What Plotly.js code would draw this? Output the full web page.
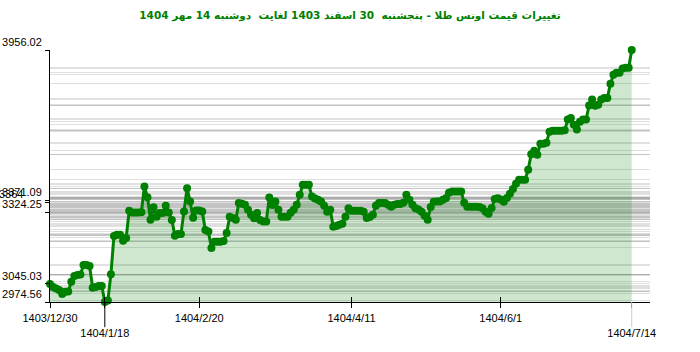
<!DOCTYPE html>
<html>
<head>
<meta charset="utf-8">
<script src="https://cdn.plot.ly/plotly-3.0.1.min.js"></script>
<style>html,body{margin:0;padding:0;background:#fff;}#chart{width:700px;height:352px;}</style>
</head>
<body>
<div id="chart"></div>
<script>
// Gold ounce price, one value per recorded day (index along x)
const values = [
  3045.03, 3033, 3027, 3021, 3006, 3014, 3015, 3053, 3076, 3080,
  3082, 3119, 3119, 3115, 3030, 3033, 3037, 3037, 2974.56, 2980,
  3083, 3232, 3236, 3236, 3213, 3224, 3330, 3323, 3323, 3323,
  3324.25, 3424.5, 3383, 3295, 3344, 3307, 3321, 3321, 3349, 3323,
  3294, 3233, 3239, 3239, 3327, 3418, 3366, 3303, 3331, 3331,
  3327, 3255, 3249, 3185, 3209, 3209, 3209, 3212, 3243, 3307,
  3302, 3295, 3360, 3357, 3353, 3334, 3314, 3301, 3321, 3294,
  3288, 3288, 3382, 3352, 3366, 3334, 3307, 3307, 3307, 3322,
  3334, 3353, 3392, 3431, 3431, 3431, 3385, 3378, 3373, 3366,
  3349, 3326, 3334, 3268, 3271, 3275, 3279, 3307, 3340, 3330,
  3330, 3330, 3330, 3326, 3302, 3306, 3314, 3349, 3360, 3360,
  3360, 3353, 3346, 3353, 3356, 3356, 3361, 3392, 3373, 3353,
  3340, 3335, 3326, 3310, 3295, 3345, 3365, 3366, 3366, 3373,
  3379, 3400, 3405, 3405, 3405, 3405, 3361, 3346, 3346, 3346,
  3346, 3345, 3340, 3326, 3318, 3341, 3376, 3379, 3374, 3365,
  3380, 3396, 3415, 3435, 3451, 3451, 3451, 3490, 3550, 3564,
  3548, 3591, 3591, 3595, 3638, 3642, 3642, 3642, 3642, 3643,
  3685, 3691, 3665, 3646, 3677, 3685, 3685, 3740, 3763, 3739,
  3743, 3763, 3769, 3769, 3825, 3860, 3867, 3867, 3884, 3887,
  3887, 3956.02
];
const xIdx = values.map((v, i) => i);

// x-axis tick positions (data index) and labels
const xTickIdx = [0, 18, 49, 99, 148, 191];
const xTickLabels = ['1403/12/30', '1404/1/18', '1404/2/20', '1404/4/11', '1404/6/1', '1404/7/14'];
const xTickLower = [false, true, false, false, false, true];

// y-axis labelled ticks
const yTickVals = [2974.56, 3045.03, 3324.25, 3364, 3371.09, 3956.02];
const yTickLabels = ['2974.56', '3045.03', '3324.25', '3364', '3371.09', '3956.02'];

const titleText = 'تغییرات قیمت اونس طلا - پنجشنبه  30 اسفند 1403 لغایت  دوشنبه 14 مهر 1404';

const minV = Math.min(...values), maxV = Math.max(...values);
const minIdx = values.indexOf(minV);
const lastIdx = values.length - 1;

const nb = '\u00A0';
const yText = yTickLabels.map(t => t.length < 7 ? t + nb.repeat((7 - t.length) * 2) : t);
const xText = xTickLabels.map((t, i) => xTickLower[i] ? nb + '<br>' + t : t);

const green = '#008000';
const traces = [
  {
    x: xIdx, y: values, type: 'scatter', mode: 'lines+markers',
    line: {color: green, width: 3},
    marker: {color: green, size: 8},
    fill: 'tozeroy', fillcolor: 'rgba(0,128,0,0.19)',
    cliponaxis: false, hoverinfo: 'skip', showlegend: false
  },
  {
    x: [xIdx[0]], y: [values[0]], xaxis: 'x2', yaxis: 'y2', type: 'scatter', mode: 'markers',
    marker: {opacity: 0}, hoverinfo: 'skip', showlegend: false
  }
];

const tickFont = {family: '"Liberation Sans", Arial, sans-serif', size: 11, color: '#000'};
const xRange = [0, 197];
const yRange = [minV, maxV];

const layout = {
  width: 700, height: 352,
  margin: {l: 50, r: 50, t: 50, b: 50},
  paper_bgcolor: '#fff', plot_bgcolor: '#fff',
  title: {
    text: titleText, x: 0.5, xanchor: 'center', y: 0.957, yanchor: 'middle',
    font: {family: '"DejaVu Sans", sans-serif', size: 10.5, color: green, weight: 'bold'}
  },
  xaxis: {
    range: xRange, showgrid: false, zeroline: false,
    showline: true, linecolor: '#000', linewidth: 1,
    tickmode: 'array', tickvals: xTickIdx, ticktext: xText,
    ticks: 'outside', ticklen: 5, tickcolor: '#000', tickfont: tickFont,
    ticklabelstandoff: 1
  },
  yaxis: {
    range: yRange, zeroline: false,
    showline: true, linecolor: '#000', linewidth: 1,
    tickmode: 'array', tickvals: values, showticklabels: false, ticks: '',
    showgrid: true, gridcolor: 'rgba(0,0,0,0.12)', gridwidth: 1
  },
  xaxis2: {
    overlaying: 'x', anchor: 'y2', range: xRange, showgrid: false, zeroline: false,
    showline: false, tickmode: 'array', tickvals: xTickIdx.slice(0, 5), ticks: 'inside', ticklen: 5,
    tickcolor: '#000', showticklabels: false
  },
  yaxis2: {
    overlaying: 'y', anchor: 'x2', side: 'left', range: yRange, showgrid: false, zeroline: false,
    showline: false, tickmode: 'array', tickvals: yTickVals, ticktext: yText,
    ticks: 'outside', ticklen: 4, tickcolor: '#000', tickfont: tickFont,
    ticklabelposition: 'outside top', ticklabelstandoff: 5
  },
  shapes: [
    {type: 'line', xref: 'x', yref: 'paper', x0: minIdx, x1: minIdx, y0: 0, y1: -0.1, line: {color: '#000', width: 1}},
    {type: 'line', xref: 'x', yref: 'paper', x0: lastIdx, x1: lastIdx, y0: 0, y1: -0.1, line: {color: '#cccccc', width: 1}}
  ]
};

Plotly.newPlot('chart', traces, layout, {displayModeBar: false, staticPlot: true});
</script>
</body>
</html>
